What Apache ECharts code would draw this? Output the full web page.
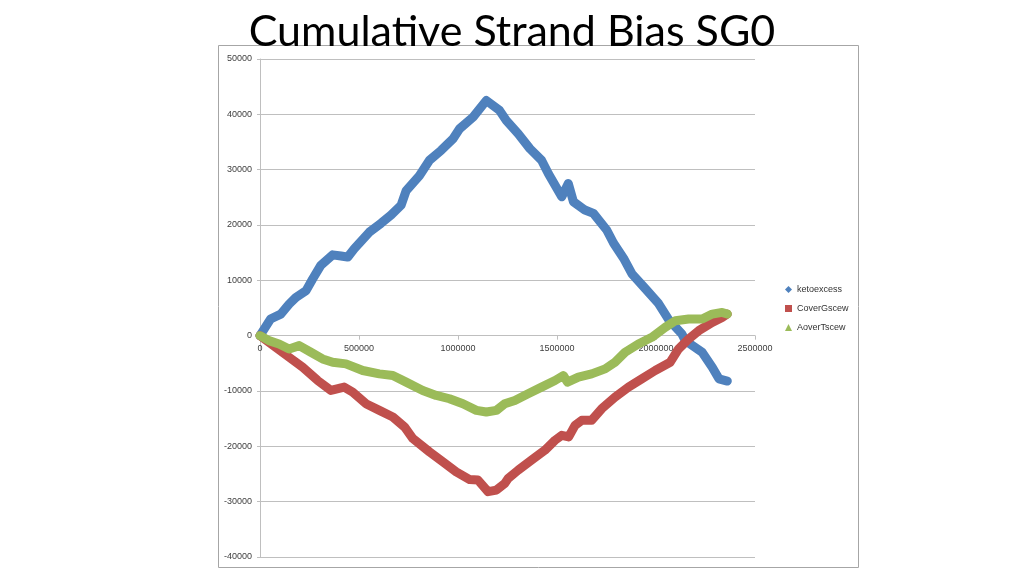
<!DOCTYPE html>
<html>
<head>
<meta charset="utf-8">
<script src="https://cdn.jsdelivr.net/npm/echarts@6/dist/echarts.min.js"></script>
<style>html,body{margin:0;padding:0;background:#fff}#c{width:1024px;height:576px}</style>
</head>
<body>
<div id="c"></div>
<script>
const titleText = "Cumulative Strand Bias SG0";
const seriesNames = ["ketoexcess", "CoverGscew", "AoverTscew"];
const xTicks = [0, 500000, 1000000, 1500000, 2000000, 2500000];
const yTicks = [-40000, -30000, -20000, -10000, 0, 10000, 20000, 30000, 40000, 50000];

const ketoX = [0,53000,105000,147000,181000,232000,265000,307000,367000,409000,443000,476000,552000,611000,662000,713000,738000,805000,856000,915000,975000,1008000,1076000,1143000,1210000,1244000,1304000,1363000,1422000,1456000,1524000,1557000,1583000,1641000,1684000,1751000,1786000,1836000,1878000,1946000,2013000,2064000,2131000,2148000,2233000,2284000,2318000,2360000];
const ketoY = [0,3000,3900,5700,6900,8100,10200,12700,14600,14400,14200,15700,18700,20300,21800,23600,26200,28900,31700,33500,35600,37400,39500,42500,40700,38900,36500,33800,31700,29300,25100,27500,24200,22700,22100,19100,16700,14000,11200,8500,5800,2900,300,-900,-3000,-5700,-7800,-8200];

const coverX = [0,80000,147000,215000,291000,358000,425000,468000,535000,603000,671000,730000,772000,856000,924000,991000,1059000,1101000,1152000,1194000,1236000,1253000,1304000,1371000,1439000,1490000,1524000,1559000,1591000,1625000,1675000,1726000,1793000,1861000,1928000,1996000,2072000,2114000,2165000,2216000,2284000,2334000,2360000];
const coverY = [0,-2100,-3900,-5700,-8100,-9900,-9300,-10200,-12300,-13500,-14700,-16500,-18600,-21000,-22800,-24600,-26000,-26100,-28200,-27900,-26700,-25800,-24300,-22500,-20700,-18900,-18000,-18300,-16200,-15300,-15300,-13200,-11100,-9300,-7800,-6300,-4800,-2400,-600,900,2400,3300,3900];

const aoverX = [0,45000,96000,147000,198000,257000,316000,367000,434000,519000,603000,671000,738000,822000,890000,957000,1025000,1093000,1143000,1194000,1236000,1287000,1354000,1422000,1490000,1532000,1553000,1608000,1675000,1743000,1793000,1844000,1911000,1979000,2046000,2098000,2165000,2233000,2284000,2334000,2360000];
const aoverY = [0,-900,-1500,-2400,-1800,-3000,-4200,-4800,-5100,-6300,-6900,-7200,-8400,-9900,-10800,-11400,-12300,-13500,-13800,-13500,-12300,-11700,-10500,-9300,-8100,-7200,-8400,-7500,-6900,-6000,-4800,-3000,-1500,-300,1500,2700,3000,3000,3900,4200,3900];

const colors = ["#4F81BD", "#C0504D", "#9BBB59"];
const icons = ["diamond", "rect", "triangle"];

function pairs(xs, ys) { return xs.map((x, i) => [x, ys[i]]); }
const allData = [pairs(ketoX, ketoY), pairs(coverX, coverY), pairs(aoverX, aoverY)];

const gridTop = 59, gridBottom = 19, chartH = 576;
const plotH = chartH - gridTop - gridBottom;
const yMin = yTicks[0], yMax = yTicks[yTicks.length - 1];
// shift x axis from the bottom of the grid up to the y = 0 line
const xAxisOffset = -plotH * (0 - yMin) / (yMax - yMin);

const chart = echarts.init(document.getElementById('c'), null, {renderer: 'canvas'});
chart.setOption({
  animation: false,
  backgroundColor: '#ffffff',
  title: {
    text: titleText, left: 'center', top: 6,
    textStyle: {fontFamily: 'Lato', fontWeight: 'normal', fontSize: 43, color: '#000'}
  },
  graphic: [{
    type: 'rect', z: -10, silent: true,
    shape: {x: 218.5, y: 45.5, width: 640, height: 522},
    style: {fill: 'none', stroke: '#a6a6a6', lineWidth: 1}
  }],
  legend: {
    orient: 'vertical', left: 785, top: 285, itemGap: 10, padding: 0,
    itemWidth: 7, itemHeight: 7,
    textStyle: {fontFamily: 'Liberation Sans', fontSize: 9, color: '#333'},
    data: seriesNames.map((n, i) => ({name: n, icon: icons[i]}))
  },
  grid: {left: 260, right: 269, top: gridTop, bottom: gridBottom, containLabel: false},
  xAxis: {
    type: 'value', position: 'bottom', offset: xAxisOffset,
    min: xTicks[0], max: xTicks[xTicks.length - 1], interval: 500000,
    axisLine: {onZero: false, lineStyle: {color: '#bfbfbf', width: 1}},
    axisTick: {show: true, length: 4, lineStyle: {color: '#bfbfbf'}},
    axisLabel: {fontFamily: 'Liberation Sans', fontSize: 9, color: '#404040', margin: 8,
                formatter: v => String(v)},
    splitLine: {show: false}
  },
  yAxis: {
    type: 'value', min: yMin, max: yMax, interval: 10000,
    axisLine: {show: true, onZero: false, lineStyle: {color: '#bfbfbf', width: 1}},
    axisTick: {show: true, length: 3, lineStyle: {color: '#bfbfbf'}},
    axisLabel: {fontFamily: 'Liberation Sans', fontSize: 9, color: '#404040', margin: 8,
                formatter: v => String(v)},
    splitLine: {show: true, lineStyle: {color: '#bfbfbf', width: 1}}
  },
  series: seriesNames.map((n, i) => ({
    name: n, type: 'line', data: allData[i],
    showSymbol: false, symbol: icons[i],
    color: colors[i],
    lineStyle: {width: 9, color: colors[i], cap: 'round', join: 'round'},
    z: 2 + i
  }))
});
</script>
</body>
</html>
